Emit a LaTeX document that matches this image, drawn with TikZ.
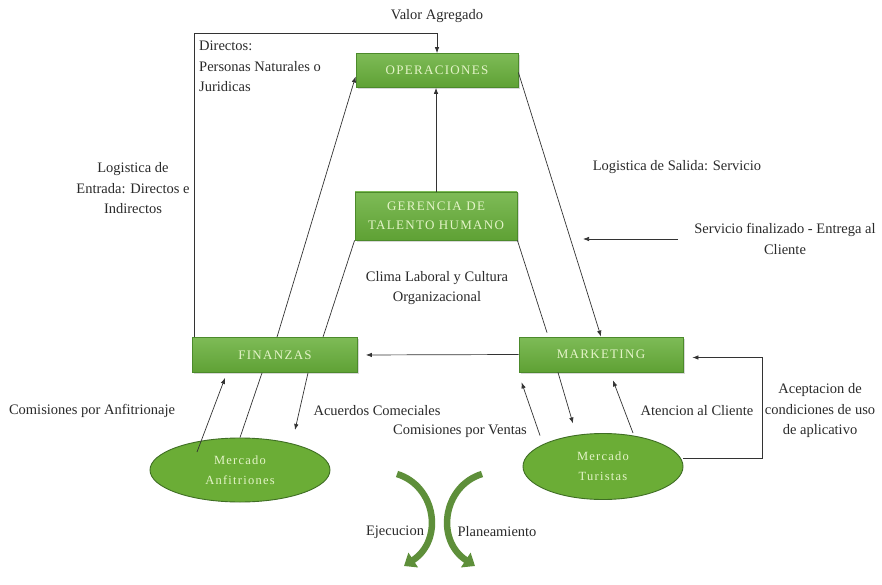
\documentclass[tikz,border=0pt]{standalone}
\usepackage{fontspec}
\setmainfont{Liberation Serif}
\newfontfamily\boxfont[LetterSpace=10]{Liberation Serif}
\usetikzlibrary{arrows.meta,shapes.geometric,shadows}
\definecolor{boxgreen}{HTML}{67AF39}
\definecolor{boxborder}{HTML}{4C8A2B}
\definecolor{boxtext}{HTML}{E4F4C8}
\definecolor{ellgreen}{HTML}{6BAD36}
\definecolor{ellborder}{HTML}{3F6E24}
\definecolor{cyclegreen}{HTML}{5E8F3A}
\definecolor{linecol}{HTML}{333333}
\definecolor{txtcol}{HTML}{2A2A2A}
\tikzset{
  box/.style={draw=boxborder, line width=0.8pt, top color=boxgreen!85!white, bottom color=boxgreen!92!black,
    inner sep=0pt, align=center, text=boxtext, font=\boxfont\fontsize{13}{19}\selectfont,
    drop shadow={shadow xshift=1.5pt, shadow yshift=-1.5pt, opacity=0.3}},
  mercado/.style={ellipse, draw=ellborder, line width=0.9pt, fill=ellgreen, inner sep=0pt,
    align=center, text=boxtext, font=\boxfont\fontsize{12.5}{20}\selectfont},
  lbl/.style={inner sep=0pt, align=center, text=txtcol, font=\fontsize{14.5}{20.5}\selectfont},
  conn/.style={draw=linecol, line width=0.7pt},
  arr/.style={conn, -{Latex[length=6pt,width=4.5pt]}},
  cyc/.style={draw=cyclegreen, line width=6.5pt, -{Triangle[length=11pt,width=17pt]}}
}
\begin{document}
\begin{tikzpicture}[x=1pt,y=-1pt]
\useasboundingbox (0,0) rectangle (882,585);
\fill[white] (0,0) rectangle (882,585);

% boxes
\node[box, minimum width=162pt, minimum height=34pt] (ops) at (437,70.5) {OPERACIONES};
\node[box, minimum width=162pt, minimum height=48pt] (ger) at (436,216) {GERENCIA DE\\TALENTO HUMANO};
\node[box, minimum width=165pt, minimum height=35pt] (fin) at (275,355) {FINANZAS};
\node[box, minimum width=164pt, minimum height=35pt] (mkt) at (601,354.5) {MARKETING};
\node[mercado, minimum width=180pt, minimum height=64pt] (anf) at (240,470) {Mercado\\Anfitriones};
\node[mercado, minimum width=160pt, minimum height=66pt] (tur) at (603,466.5) {Mercado\\Turistas};

% labels
\node[lbl] (lva) at (437,16) {Valor Agregado};
\node[lbl, anchor=west, align=left] (ldir) at (199,66.5) {Directos:\\Personas Naturales o\\Juridicas};
\node[lbl] (lent) at (133,188.5) {Logistica de\\Entrada: Directos e\\Indirectos};
\node[lbl] (lclima) at (437,288) {Clima Laboral y Cultura\\Organizacional};
\node[lbl] (lsal) at (677,167) {Logistica de Salida: Servicio};
\node[lbl] (lserv) at (785,239) {Servicio finalizado - Entrega al\\Cliente};
\node[lbl] (lanf) at (92,411) {Comisiones por Anfitrionaje};
\node[lbl] (lacu) at (377,411) {Acuerdos Comeciales};
\node[lbl] (lven) at (460,431) {Comisiones por Ventas};
\node[lbl] (late) at (697,411) {Atencion al Cliente};
\node[lbl] (lacep) at (820,411) {Aceptacion de\\condiciones de uso\\de aplicativo};
\node[lbl] (leje) at (395,532) {Ejecucion};
\node[lbl] (lpla) at (497,532) {Planeamiento};

% free coordinates
\coordinate (sfA) at (678,239);
\coordinate (sfB) at (583,239);

% connectors
\draw[arr] ([xshift=2pt]fin.north west) -- ++(0,-304) -| (ops.north);
\draw[arr] ([xshift=2pt]fin.north) -- ([yshift=-6pt]ops.west);
\draw[arr] (ger.north) -- (ger.north |- ops.south);
\draw[conn] (ger.south west) -- ([xshift=48pt]fin.north);
\draw[conn] (ger.south east) -- ([xshift=-54pt,yshift=4pt]mkt.north);
\draw[arr] ([yshift=-2pt]ops.east) -- (mkt.north);
\draw[arr, shorten >=8pt] (mkt.west) -- (fin.east);
\draw[arr] (sfA) -- (sfB);

\draw[arr] ([xshift=-43pt,yshift=18pt]anf.center) -- ([xshift=-50pt,yshift=-5pt]fin.south);
\draw[conn] ([xshift=-13pt]fin.south) -- (anf.north);
\draw[arr] ([xshift=33pt]fin.south) -- ([xshift=55pt,yshift=40pt]anf.center);

\draw[arr] ([xshift=-63pt,yshift=31pt]tur.center) -- ([xshift=3pt,yshift=-10pt]mkt.south west);
\draw[arr] ([xshift=-43pt]mkt.south) -- ([xshift=-30pt,yshift=43pt]tur.center);
\draw[arr] ([xshift=30pt]tur.north) -- ([xshift=12pt,yshift=-8pt]mkt.south);
\draw[arr] ([yshift=8pt]tur.east) -- ++(79,0) |- ([xshift=9pt,yshift=-3pt]mkt.east);

% cycle arrows
\draw[cyc] (397,474) .. controls (436,486) and (444,540) .. (404,566);
\draw[cyc] (482,474) .. controls (443,486) and (435,540) .. (475,566);
\end{tikzpicture}
\end{document}
